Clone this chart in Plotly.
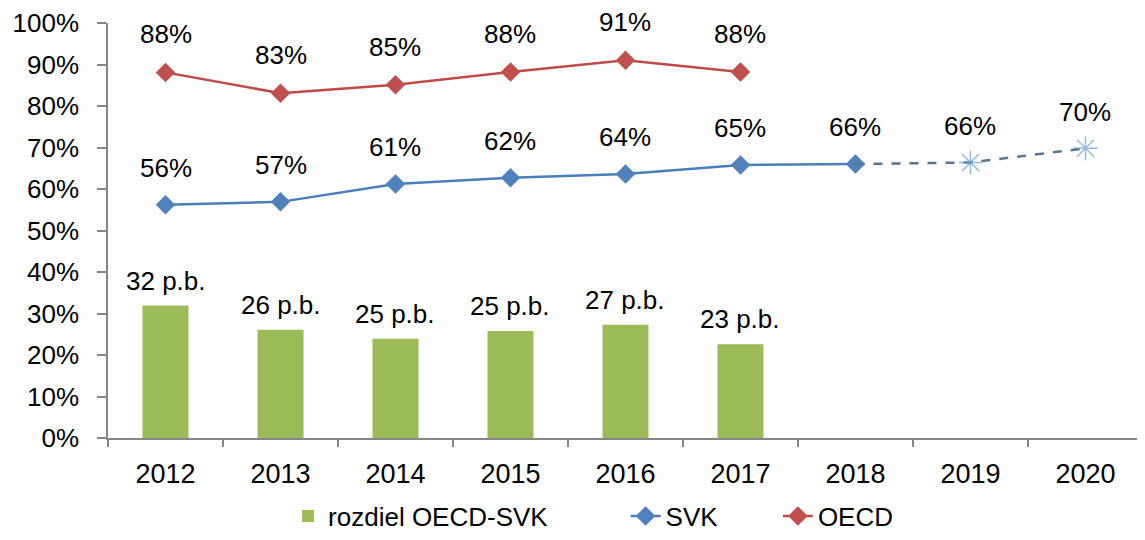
import plotly.graph_objects as go

years = ["2012", "2013", "2014", "2015", "2016", "2017", "2018", "2019", "2020"]
gap_years = ["2012", "2013", "2014", "2015", "2016", "2017"]
gap_values = [31.9, 26.1, 23.9, 25.8, 27.3, 22.6]
gap_labels = ["32 p.b.", "26 p.b.", "25 p.b.", "25 p.b.", "27 p.b.", "23 p.b."]

svk_years = ["2012", "2013", "2014", "2015", "2016", "2017", "2018"]
svk_values = [56.2, 56.9, 61.2, 62.7, 63.6, 65.8, 66.0]
svk_labels = ["56%", "57%", "61%", "62%", "64%", "65%", "66%"]

fc_years = ["2018", "2019", "2020"]
fc_values = [66.0, 66.4, 69.8]
fc_labels = ["", "66%", "70%"]

oecd_years = ["2012", "2013", "2014", "2015", "2016", "2017"]
oecd_values = [88.1, 83.1, 85.1, 88.2, 91.0, 88.2]
oecd_labels = ["88%", "83%", "85%", "88%", "91%", "88%"]

y_ticks = [0, 10, 20, 30, 40, 50, 60, 70, 80, 90, 100]
y_ticklabels = [f"{v}%" for v in y_ticks]

GREEN = "#9bbb59"
BLUE = "#4a7ebb"
BLUE_M = "#4f81bd"
RED = "#be4b48"
RED_M = "#c0504d"
AXIS = "#868686"
FONT = "Liberation Sans, Arial, sans-serif"

fig = go.Figure()
fig.add_trace(go.Bar(x=gap_years, y=gap_values, name="rozdiel OECD-SVK",
                     marker=dict(color=GREEN, line=dict(width=0)), width=0.4,
                     legend="legend"))
fig.add_trace(go.Scatter(x=svk_years, y=svk_values, name="SVK", mode="lines+markers",
                         line=dict(color=BLUE, width=2.5),
                         marker=dict(symbol="diamond", size=15, color=BLUE_M),
                         legend="legend2"))
fig.add_trace(go.Scatter(x=fc_years, y=fc_values, name="forecast", mode="lines+markers",
                         showlegend=False,
                         line=dict(color="#5a7595", width=2.5, dash="dash"),
                         marker=dict(symbol=["circle", "asterisk-open", "asterisk-open"],
                                     size=[0, 20, 20], color="#6a9bd1",
                                     line=dict(color="#6a9bd1", width=1.5))))
fig.add_trace(go.Scatter(x=oecd_years, y=oecd_values, name="OECD", mode="lines+markers",
                         line=dict(color=RED, width=2.5),
                         marker=dict(symbol="diamond", size=15, color=RED_M),
                         legend="legend3"))


def labels(xs, ys, texts, shift):
    for x, y, t in zip(xs, ys, texts):
        if t:
            fig.add_annotation(x=years.index(x), y=y, xref="x", yref="y", text=t,
                               showarrow=False, yshift=shift,
                               font=dict(family=FONT, size=26, color="#000000"))


labels(gap_years, gap_values, gap_labels, 25)
labels(svk_years, svk_values, svk_labels, 37)
labels(fc_years, fc_values, fc_labels, 36)
labels(oecd_years, oecd_values, oecd_labels, 38)

leg_common = dict(orientation="h", yanchor="middle", y=-0.188,
                  font=dict(family=FONT, size=26, color="#000000"),
                  bgcolor="rgba(0,0,0,0)", xanchor="left")

fig.update_layout(
    template="none",
    width=1129, height=524,
    margin=dict(l=100, r=0, t=15, b=94, autoexpand=False),
    paper_bgcolor="white", plot_bgcolor="white",
    font=dict(family=FONT, size=25, color="#000000"),
    showlegend=True,
    legend=dict(x=0.175, **leg_common),
    legend2=dict(x=0.503, **leg_common),
    legend3=dict(x=0.651, **leg_common),
)
fig.update_xaxes(type="category", categoryorder="array", categoryarray=years,
                 range=[-0.5, 8.448], showline=True, linecolor=AXIS, linewidth=1.5,
                 ticks="outside", tickson="boundaries", ticklen=7, tickcolor=AXIS,
                 tickwidth=1.5, showgrid=False, automargin=False,
                 ticklabelstandoff=11,
                 tickfont=dict(family=FONT, size=27, color="#000000"))
fig.update_yaxes(range=[0, 100], tickvals=y_ticks, ticktext=y_ticklabels,
                 showline=True, linecolor=AXIS, linewidth=1.5,
                 ticks="outside", ticklen=9, tickcolor=AXIS, tickwidth=1.5,
                 showgrid=False, zeroline=False, automargin=False,
                 ticklabelstandoff=13,
                 tickfont=dict(family=FONT, size=26, color="#000000"))

fig.write_html("out.html")
